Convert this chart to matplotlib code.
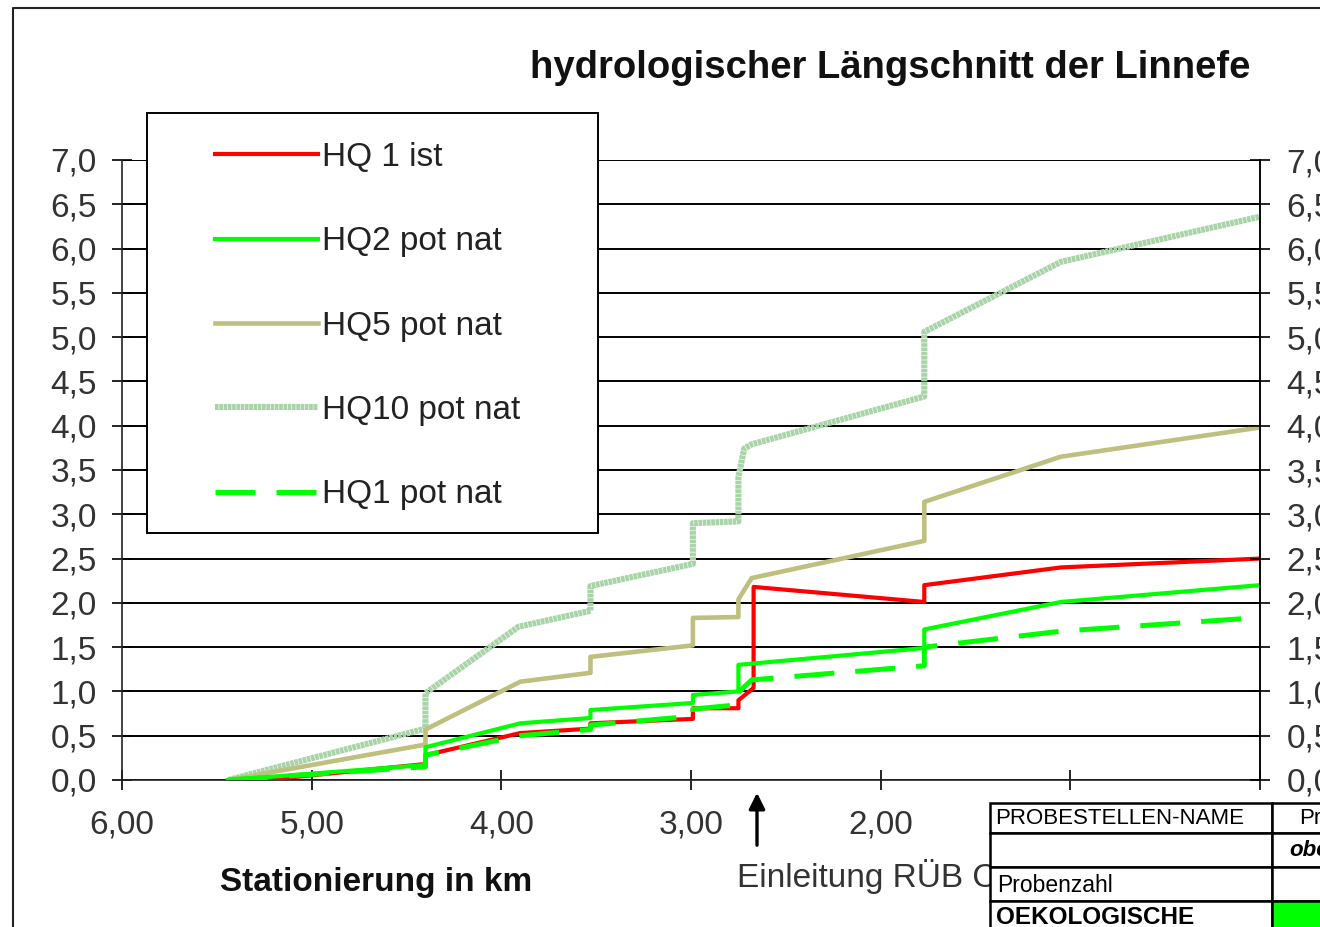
import matplotlib
matplotlib.use("Agg")
import matplotlib.pyplot as plt
from matplotlib.patches import Rectangle
from matplotlib.lines import Line2D

plt.rcParams['font.family'] = ['Liberation Sans', 'DejaVu Sans']

# station (km) and water level values
hq1_ist_km = [5.25, 4.40, 4.40, 3.90, 3.53, 3.53, 2.99, 2.99, 2.75, 2.75, 2.67, 2.67, 1.77, 1.77, 1.05, 0.0]
hq1_ist = [0.0, 0.18, 0.28, 0.53, 0.58, 0.64, 0.69, 0.81, 0.81, 0.90, 1.04, 2.18, 2.01, 2.20, 2.40, 2.50]

hq2_km = [5.44, 4.40, 4.40, 3.90, 3.53, 3.53, 2.99, 2.99, 2.75, 2.75, 1.77, 1.77, 1.05, 0.0]
hq2 = [0.0, 0.17, 0.37, 0.64, 0.70, 0.79, 0.87, 0.96, 1.00, 1.30, 1.49, 1.70, 2.01, 2.20]

hq5_km = [5.44, 4.40, 4.40, 3.90, 3.53, 3.53, 2.99, 2.99, 2.75, 2.75, 2.68, 1.77, 1.77, 1.05, 0.0]
hq5 = [0.0, 0.40, 0.57, 1.11, 1.21, 1.39, 1.52, 1.83, 1.84, 2.04, 2.28, 2.70, 3.14, 3.65, 3.98]

hq10_km = [5.44, 4.40, 4.40, 3.91, 3.53, 3.53, 2.99, 2.99, 2.75, 2.75, 2.72, 2.68, 1.77, 1.77, 1.05, 0.0]
hq10 = [0.0, 0.58, 0.98, 1.73, 1.91, 2.19, 2.44, 2.90, 2.92, 3.42, 3.74, 3.79, 4.33, 5.06, 5.85, 6.36]

hq1_nat_km = [5.44, 4.40, 4.40, 3.90, 3.53, 3.53, 2.99, 2.99, 2.75, 2.75, 2.68, 1.77, 1.77, 1.05, 0.10]
hq1_nat = [0.0, 0.15, 0.28, 0.50, 0.57, 0.62, 0.72, 0.80, 0.85, 0.99, 1.13, 1.29, 1.50, 1.68, 1.82]

series_labels = ["HQ 1 ist", "HQ2 pot nat", "HQ5 pot nat", "HQ10 pot nat", "HQ1 pot nat"]
x_ticks = [6, 5, 4, 3, 2, 1, 0]
y_ticks = [0.0, 0.5, 1.0, 1.5, 2.0, 2.5, 3.0, 3.5, 4.0, 4.5, 5.0, 5.5, 6.0, 6.5, 7.0]

W, H = 1320, 927
fig = plt.figure(figsize=(W / 100, H / 100), dpi=100)
fig.patch.set_facecolor('white')


def fx(px):
    return px / W


def fy(py):
    return 1 - py / H


ax = fig.add_axes([fx(122), fy(780), fx(1260) - fx(122), fy(160) - fy(780)])
ax.set_xlim(6, 0)
ax.set_ylim(0, 7)

c_red = '#ff0000'
c_green = '#00ff00'
c_khaki = '#bfbf80'
c_light = '#a8d4a8'
hq10_style = (0, (0.6, 0.1))
hq1_nat_style = (0, (8.0, 4.2))

ax.plot(hq10_km, hq10, color=c_light, lw=4.4, ls=hq10_style, solid_capstyle='butt', zorder=3)
ax.plot(hq5_km, hq5, color=c_khaki, lw=3.3, zorder=4)
ax.plot(hq1_ist_km, hq1_ist, color=c_red, lw=3.0, zorder=5)
ax.plot(hq2_km, hq2, color=c_green, lw=3.0, zorder=6)
ax.plot(hq1_nat_km, hq1_nat, color=c_green, lw=3.6, ls=hq1_nat_style, zorder=7)

ax.set_yticks(y_ticks)
ax.set_yticklabels([f"{v:.1f}".replace('.', ',') for v in y_ticks])
ax.set_xticks(x_ticks)
ax.set_xticklabels([f"{v:.2f}".replace('.', ',') for v in x_ticks])
ax.grid(axis='y', color='black', lw=1.4, zorder=1)
ax.set_axisbelow(True)
ax.spines['top'].set_visible(False)
for s in ['left', 'right', 'bottom']:
    ax.spines[s].set_color('#222222')
    ax.spines[s].set_linewidth(1.2)
ax.tick_params(axis='y', direction='inout', length=14, width=1.2, pad=11, labelsize=24,
               labelcolor='#333333')
ax.tick_params(axis='x', direction='inout', length=14, width=1.2, pad=14, labelsize=24,
               labelcolor='#333333')

ax2 = ax.twinx()
ax2.set_ylim(0, 7)
ax2.set_yticks(y_ticks)
ax2.set_yticklabels([f"{v:.1f}".replace('.', ',') for v in y_ticks])
ax2.tick_params(axis='y', direction='inout', length=14, width=1.2, pad=12, labelsize=24,
                labelcolor='#333333')
for s in ['top', 'left', 'bottom']:
    ax2.spines[s].set_visible(False)
ax2.spines['right'].set_linewidth(1.2)

# legend box
fig.add_artist(Rectangle((fx(147), fy(533)), fx(598) - fx(147), fy(113) - fy(533),
                         transform=fig.transFigure, facecolor='white', edgecolor='black',
                         lw=1.4, zorder=5))
handles = [
    Line2D([], [], color=c_red, lw=3.0),
    Line2D([], [], color=c_green, lw=3.0),
    Line2D([], [], color=c_khaki, lw=3.3),
    Line2D([], [], color=c_light, lw=4.4, ls=hq10_style),
    Line2D([], [], color=c_green, lw=3.6, ls=hq1_nat_style),
]
leg = fig.legend(handles, series_labels, loc='upper left',
                 bbox_to_anchor=(fx(215), fy(142)), bbox_transform=fig.transFigure,
                 frameon=False, borderpad=0, borderaxespad=0, fontsize=24,
                 handlelength=3.1, handletextpad=0.12, labelspacing=1.6)
leg.set_zorder(6)
for t in leg.get_texts():
    t.set_color('#222222')

fig.text(fx(890), fy(68), "hydrologischer Längschnitt der Linnefe", ha='center', va='center',
         fontsize=27.5, fontweight='bold', color='#111111')
fig.text(fx(376), fy(882), "Stationierung in km", ha='center', va='center',
         fontsize=24, fontweight='bold', color='#111111')
fig.text(fx(737), fy(877), "Einleitung RÜB Ost", ha='left', va='center',
         fontsize=24, color='#333333', zorder=1)
ax.annotate("", xy=(757, H - 790), xycoords='figure pixels',
            xytext=(757, H - 848), textcoords='figure pixels',
            arrowprops=dict(arrowstyle='-|>', color='black', lw=2.4, mutation_scale=24))

# outer chart frame
fig.add_artist(Line2D([fx(13), fx(13), 1.01], [0, fy(8), fy(8)], transform=fig.transFigure,
                      color='#222222', lw=1.5))

# table in the lower right corner
col_x = [990, 1272, 1340]
row_y = [803, 833, 867, 901, 945]
for r in range(4):
    for c in range(2):
        face = 'white'
        if r == 3 and c == 1:
            face = '#00ff00'
        fig.add_artist(Rectangle((fx(col_x[c]), fy(row_y[r + 1])),
                                 fx(col_x[c + 1]) - fx(col_x[c]), fy(row_y[r]) - fy(row_y[r + 1]),
                                 transform=fig.transFigure, facecolor=face, edgecolor='black',
                                 lw=1.8, zorder=8))
fig.text(fx(995), fy(818), "PROBESTELLEN-NAME", ha='left', va='center', fontsize=16, zorder=9)
fig.text(fx(1299), fy(818), "Probestelle", ha='left', va='center', fontsize=16, zorder=9)
fig.text(fx(1289), fy(851), "oberhalb", ha='left', va='center', fontsize=16,
         fontweight='bold', style='italic', zorder=9)
fig.text(fx(997), fy(885), "Probenzahl", ha='left', va='center', fontsize=16.5, zorder=9)
fig.text(fx(996), fy(918), "OEKOLOGISCHE", ha='left', va='center', fontsize=17.5,
         fontweight='bold', zorder=9)

fig.savefig("out.png", dpi=100)
